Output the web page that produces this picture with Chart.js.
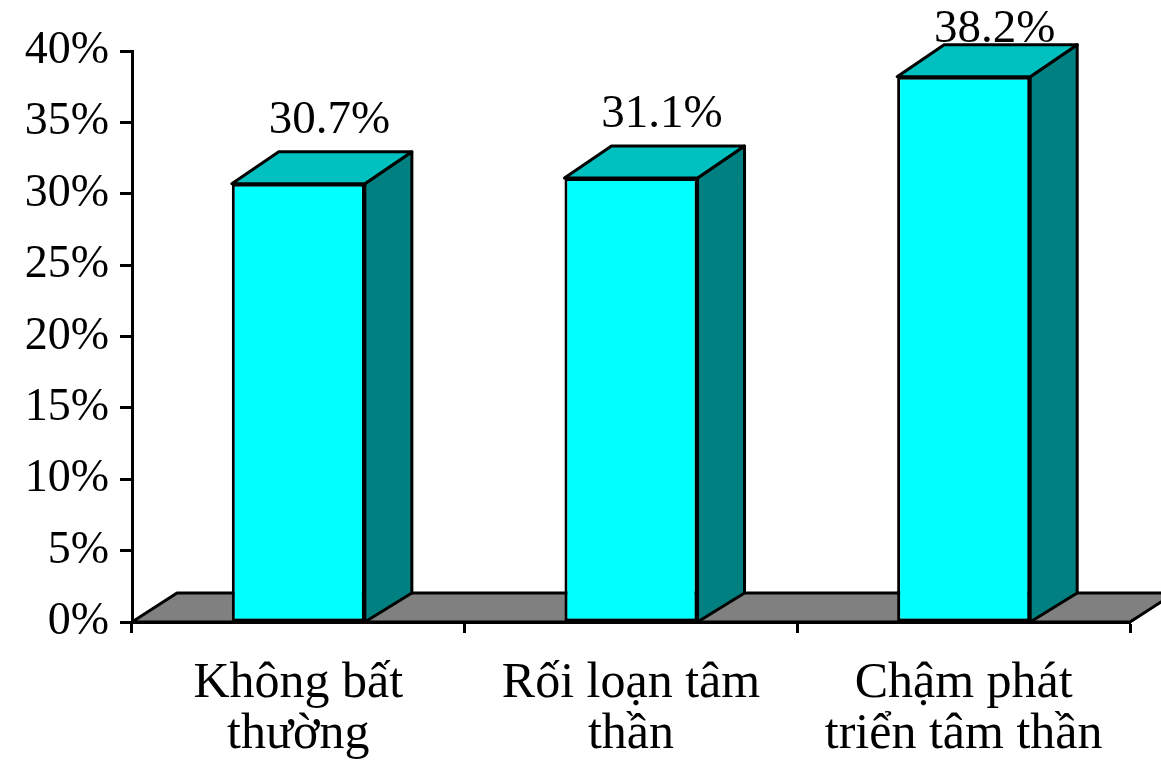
<!DOCTYPE html>
<html>
<head>
<meta charset="utf-8">
<script src="https://cdn.jsdelivr.net/npm/chart.js@4/dist/chart.umd.min.js"></script>
<style>
  html, body { margin: 0; padding: 0; background: #ffffff; }
  #wrap { width: 1161px; height: 767px; position: relative; }
</style>
</head>
<body>
<div id="wrap"><canvas id="chart" width="1161" height="767"></canvas></div>
<script>
// Chart data
const categories = [
  ['Không bất', 'thường'],
  ['Rối loạn tâm', 'thần'],
  ['Chậm phát', 'triển tâm thần']
];
const percentages = [30.7, 31.1, 38.2];
const yTickValues = [0, 5, 10, 15, 20, 25, 30, 35, 40];

// 3D look: depth offsets (px) for the bar boxes and the floor slab
const BAR_DX = 47, BAR_DY = -32;
const FLOOR_DX = 45, FLOOR_DY = -29;
const LINE_W = 3;
const SERIF = '"Liberation Serif", "Times New Roman", serif';
const LABEL_SIZE = 47;

function polygon(ctx, pts, fill) {
  ctx.beginPath();
  ctx.moveTo(pts[0][0], pts[0][1]);
  for (let i = 1; i < pts.length; i++) ctx.lineTo(pts[i][0], pts[i][1]);
  ctx.closePath();
  ctx.fillStyle = fill;
  ctx.fill();
  ctx.lineWidth = LINE_W;
  ctx.strokeStyle = '#000000';
  ctx.lineJoin = 'round';
  ctx.stroke();
}

const box3d = {
  id: 'box3d',
  beforeDatasetsDraw(chart) {
    const { ctx, chartArea: a, scales } = chart;
    const base = scales.y.getPixelForValue(0);
    ctx.save();
    polygon(ctx, [
      [a.left, base], [a.right, base],
      [a.right + FLOOR_DX, base + FLOOR_DY], [a.left + FLOOR_DX, base + FLOOR_DY]
    ], '#808080');
    ctx.restore();
  },
  afterDatasetsDraw(chart) {
    const { ctx, scales } = chart;
    const meta = chart.getDatasetMeta(0);
    const base = scales.y.getPixelForValue(0);
    ctx.save();
    meta.data.forEach((bar, i) => {
      const { x, y, width } = bar.getProps(['x', 'y', 'width'], true);
      const x0 = x - width / 2, x1 = x + width / 2;
      // right side face
      polygon(ctx, [
        [x1, y], [x1 + BAR_DX, y + BAR_DY],
        [x1 + BAR_DX, base + FLOOR_DY], [x1, base]
      ], '#008080');
      // top face
      polygon(ctx, [
        [x0, y], [x1, y], [x1 + BAR_DX, y + BAR_DY], [x0 + BAR_DX, y + BAR_DY]
      ], '#00C0C0');
      // value label above the box, kept inside the canvas
      ctx.fillStyle = '#000000';
      ctx.font = LABEL_SIZE + 'px ' + SERIF;
      ctx.textAlign = 'center';
      ctx.textBaseline = 'alphabetic';
      const baseline = Math.max(y + BAR_DY - 19, 42);
      ctx.fillText(percentages[i].toFixed(1) + '%', x + 31, baseline);
    });
    ctx.restore();
  }
};

new Chart(document.getElementById('chart'), {
  type: 'bar',
  data: {
    labels: categories,
    datasets: [{
      data: percentages,
      backgroundColor: '#00FFFF',
      borderColor: '#000000',
      borderWidth: LINE_W,
      borderSkipped: false,
      categoryPercentage: 1.0,
      barPercentage: 0.4
    }]
  },
  options: {
    responsive: false,
    animation: false,
    events: [],
    layout: { padding: { top: 51, right: 31, left: 0, bottom: 0 } },
    plugins: {
      legend: { display: false },
      tooltip: { enabled: false }
    },
    scales: {
      x: {
        afterFit(scale) { scale.height = 145; },
        grid: {
          offset: true,
          drawOnChartArea: false,
          drawTicks: true,
          tickLength: 11,
          tickWidth: LINE_W,
          tickColor: '#000000'
        },
        border: { display: true, color: '#000000', width: LINE_W },
        ticks: {
          color: '#000000',
          padding: 25,
          maxRotation: 0,
          autoSkip: false,
          font: { family: SERIF, size: 50, lineHeight: 1.02 }
        }
      },
      y: {
        min: 0,
        max: 40,
        afterFit(scale) { scale.width = 132; },
        afterBuildTicks(scale) { scale.ticks = yTickValues.map(v => ({ value: v })); },
        grid: {
          drawOnChartArea: false,
          drawTicks: true,
          tickLength: 12,
          tickWidth: LINE_W,
          tickColor: '#000000'
        },
        border: { display: true, color: '#000000', width: LINE_W },
        ticks: {
          color: '#000000',
          padding: 11,
          font: { family: SERIF, size: 46 },
          callback: v => v + '%'
        }
      }
    }
  },
  plugins: [box3d]
});
</script>
</body>
</html>
